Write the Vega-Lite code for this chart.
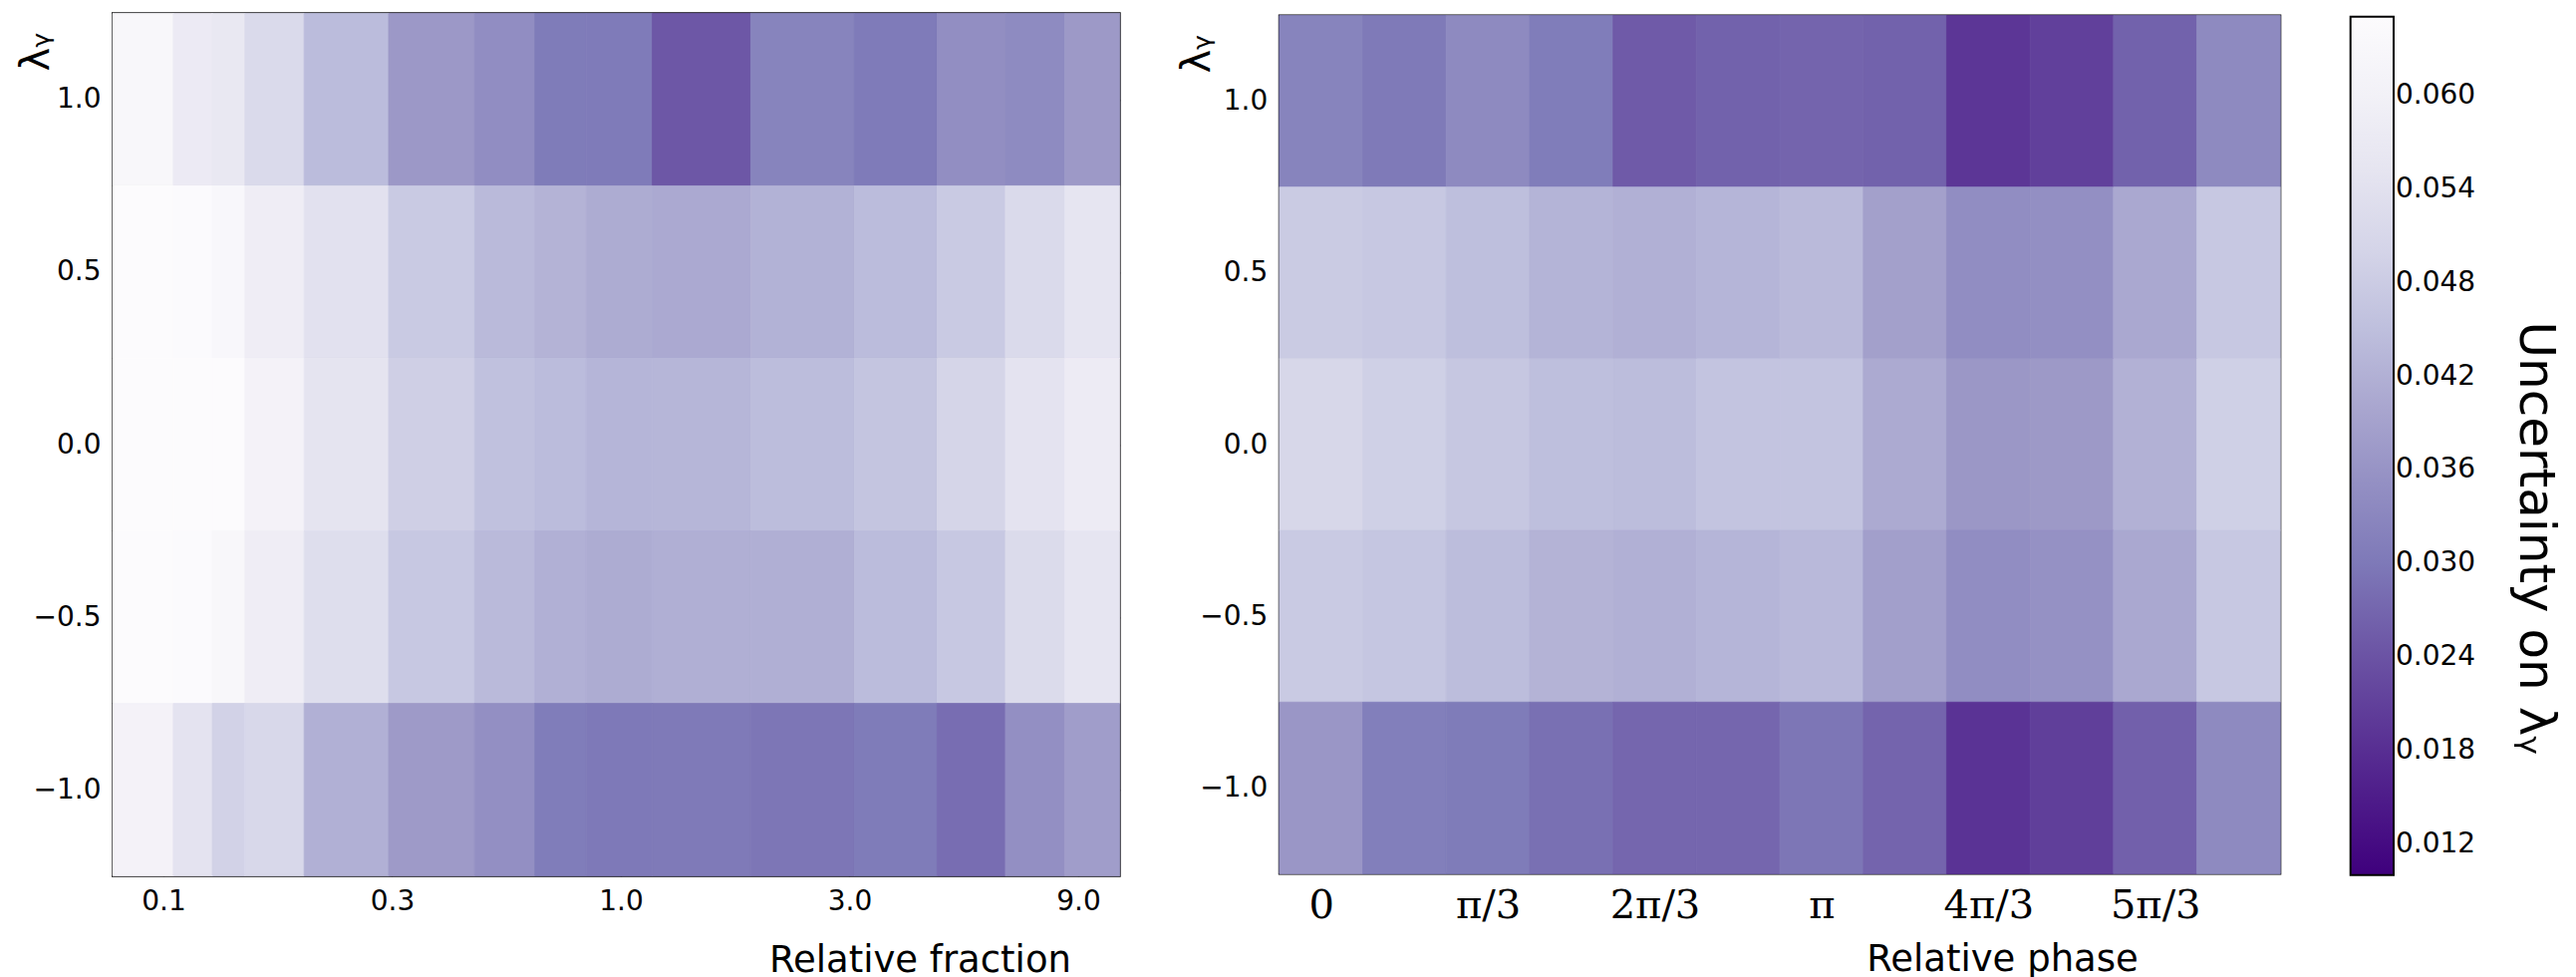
{
  "$schema": "https://vega.github.io/schema/vega-lite/v6.json",
  "background": "white",
  "padding": {"left": 15, "top": 11, "right": 40, "bottom": 0},
  "datasets": {
    "fraction": [
      {"lo": 0.08705, "hi": 0.1165, "ylo": 0.75, "yhi": 1.25, "u": 0.0629},
      {"lo": 0.1165, "hi": 0.1405, "ylo": 0.75, "yhi": 1.25, "u": 0.0572},
      {"lo": 0.1405, "hi": 0.1643, "ylo": 0.75, "yhi": 1.25, "u": 0.0562},
      {"lo": 0.1643, "hi": 0.2184, "ylo": 0.75, "yhi": 1.25, "u": 0.0513},
      {"lo": 0.2184, "hi": 0.3278, "ylo": 0.75, "yhi": 1.25, "u": 0.0443},
      {"lo": 0.3278, "hi": 0.4958, "ylo": 0.75, "yhi": 1.25, "u": 0.0371},
      {"lo": 0.4958, "hi": 0.6614, "ylo": 0.75, "yhi": 1.25, "u": 0.0345},
      {"lo": 0.6614, "hi": 0.847, "ylo": 0.75, "yhi": 1.25, "u": 0.0305},
      {"lo": 0.847, "hi": 1.163, "ylo": 0.75, "yhi": 1.25, "u": 0.0303},
      {"lo": 1.163, "hi": 1.867, "ylo": 0.75, "yhi": 1.25, "u": 0.0247},
      {"lo": 1.867, "hi": 3.073, "ylo": 0.75, "yhi": 1.25, "u": 0.0323},
      {"lo": 3.073, "hi": 4.572, "ylo": 0.75, "yhi": 1.25, "u": 0.0303},
      {"lo": 4.572, "hi": 6.346, "ylo": 0.75, "yhi": 1.25, "u": 0.0347},
      {"lo": 6.346, "hi": 8.446, "ylo": 0.75, "yhi": 1.25, "u": 0.0339},
      {"lo": 8.446, "hi": 10.99, "ylo": 0.75, "yhi": 1.25, "u": 0.0373},

      {"lo": 0.08705, "hi": 0.1165, "ylo": 0.25, "yhi": 0.75, "u": 0.0650},
      {"lo": 0.1165, "hi": 0.1405, "ylo": 0.25, "yhi": 0.75, "u": 0.0648},
      {"lo": 0.1405, "hi": 0.1643, "ylo": 0.25, "yhi": 0.75, "u": 0.0631},
      {"lo": 0.1643, "hi": 0.2184, "ylo": 0.25, "yhi": 0.75, "u": 0.0584},
      {"lo": 0.2184, "hi": 0.3278, "ylo": 0.25, "yhi": 0.75, "u": 0.0538},
      {"lo": 0.3278, "hi": 0.4958, "ylo": 0.25, "yhi": 0.75, "u": 0.0475},
      {"lo": 0.4958, "hi": 0.6614, "ylo": 0.25, "yhi": 0.75, "u": 0.0439},
      {"lo": 0.6614, "hi": 0.847, "ylo": 0.25, "yhi": 0.75, "u": 0.0425},
      {"lo": 0.847, "hi": 1.163, "ylo": 0.25, "yhi": 0.75, "u": 0.0411},
      {"lo": 1.163, "hi": 1.867, "ylo": 0.25, "yhi": 0.75, "u": 0.0405},
      {"lo": 1.867, "hi": 3.073, "ylo": 0.25, "yhi": 0.75, "u": 0.0422},
      {"lo": 3.073, "hi": 4.572, "ylo": 0.25, "yhi": 0.75, "u": 0.0443},
      {"lo": 4.572, "hi": 6.346, "ylo": 0.25, "yhi": 0.75, "u": 0.0475},
      {"lo": 6.346, "hi": 8.446, "ylo": 0.25, "yhi": 0.75, "u": 0.0513},
      {"lo": 8.446, "hi": 10.99, "ylo": 0.25, "yhi": 0.75, "u": 0.0553},

      {"lo": 0.08705, "hi": 0.1165, "ylo": -0.25, "yhi": 0.25, "u": 0.0650},
      {"lo": 0.1165, "hi": 0.1405, "ylo": -0.25, "yhi": 0.25, "u": 0.0650},
      {"lo": 0.1405, "hi": 0.1643, "ylo": -0.25, "yhi": 0.25, "u": 0.0649},
      {"lo": 0.1643, "hi": 0.2184, "ylo": -0.25, "yhi": 0.25, "u": 0.0607},
      {"lo": 0.2184, "hi": 0.3278, "ylo": -0.25, "yhi": 0.25, "u": 0.0549},
      {"lo": 0.3278, "hi": 0.4958, "ylo": -0.25, "yhi": 0.25, "u": 0.0487},
      {"lo": 0.4958, "hi": 0.6614, "ylo": -0.25, "yhi": 0.25, "u": 0.0454},
      {"lo": 0.6614, "hi": 0.847, "ylo": -0.25, "yhi": 0.25, "u": 0.0443},
      {"lo": 0.847, "hi": 1.163, "ylo": -0.25, "yhi": 0.25, "u": 0.0429},
      {"lo": 1.163, "hi": 1.867, "ylo": -0.25, "yhi": 0.25, "u": 0.0431},
      {"lo": 1.867, "hi": 3.073, "ylo": -0.25, "yhi": 0.25, "u": 0.0444},
      {"lo": 3.073, "hi": 4.572, "ylo": -0.25, "yhi": 0.25, "u": 0.0463},
      {"lo": 4.572, "hi": 6.346, "ylo": -0.25, "yhi": 0.25, "u": 0.0501},
      {"lo": 6.346, "hi": 8.446, "ylo": -0.25, "yhi": 0.25, "u": 0.0546},
      {"lo": 8.446, "hi": 10.99, "ylo": -0.25, "yhi": 0.25, "u": 0.0575},

      {"lo": 0.08705, "hi": 0.1165, "ylo": -0.75, "yhi": -0.25, "u": 0.0650},
      {"lo": 0.1165, "hi": 0.1405, "ylo": -0.75, "yhi": -0.25, "u": 0.0648},
      {"lo": 0.1405, "hi": 0.1643, "ylo": -0.75, "yhi": -0.25, "u": 0.0629},
      {"lo": 0.1643, "hi": 0.2184, "ylo": -0.75, "yhi": -0.25, "u": 0.0584},
      {"lo": 0.2184, "hi": 0.3278, "ylo": -0.75, "yhi": -0.25, "u": 0.0527},
      {"lo": 0.3278, "hi": 0.4958, "ylo": -0.75, "yhi": -0.25, "u": 0.0470},
      {"lo": 0.4958, "hi": 0.6614, "ylo": -0.75, "yhi": -0.25, "u": 0.0439},
      {"lo": 0.6614, "hi": 0.847, "ylo": -0.75, "yhi": -0.25, "u": 0.0419},
      {"lo": 0.847, "hi": 1.163, "ylo": -0.75, "yhi": -0.25, "u": 0.0411},
      {"lo": 1.163, "hi": 1.867, "ylo": -0.75, "yhi": -0.25, "u": 0.0417},
      {"lo": 1.867, "hi": 3.073, "ylo": -0.75, "yhi": -0.25, "u": 0.0417},
      {"lo": 3.073, "hi": 4.572, "ylo": -0.75, "yhi": -0.25, "u": 0.0443},
      {"lo": 4.572, "hi": 6.346, "ylo": -0.75, "yhi": -0.25, "u": 0.0470},
      {"lo": 6.346, "hi": 8.446, "ylo": -0.75, "yhi": -0.25, "u": 0.0516},
      {"lo": 8.446, "hi": 10.99, "ylo": -0.75, "yhi": -0.25, "u": 0.0553},

      {"lo": 0.08705, "hi": 0.1165, "ylo": -1.25, "yhi": -0.75, "u": 0.0607},
      {"lo": 0.1165, "hi": 0.1405, "ylo": -1.25, "yhi": -0.75, "u": 0.0546},
      {"lo": 0.1405, "hi": 0.1643, "ylo": -1.25, "yhi": -0.75, "u": 0.0494},
      {"lo": 0.1643, "hi": 0.2184, "ylo": -1.25, "yhi": -0.75, "u": 0.0508},
      {"lo": 0.2184, "hi": 0.3278, "ylo": -1.25, "yhi": -0.75, "u": 0.0419},
      {"lo": 0.3278, "hi": 0.4958, "ylo": -1.25, "yhi": -0.75, "u": 0.0375},
      {"lo": 0.4958, "hi": 0.6614, "ylo": -1.25, "yhi": -0.75, "u": 0.0350},
      {"lo": 0.6614, "hi": 0.847, "ylo": -1.25, "yhi": -0.75, "u": 0.0307},
      {"lo": 0.847, "hi": 1.163, "ylo": -1.25, "yhi": -0.75, "u": 0.0300},
      {"lo": 1.163, "hi": 1.867, "ylo": -1.25, "yhi": -0.75, "u": 0.0302},
      {"lo": 1.867, "hi": 3.073, "ylo": -1.25, "yhi": -0.75, "u": 0.0296},
      {"lo": 3.073, "hi": 4.572, "ylo": -1.25, "yhi": -0.75, "u": 0.0305},
      {"lo": 4.572, "hi": 6.346, "ylo": -1.25, "yhi": -0.75, "u": 0.0282},
      {"lo": 6.346, "hi": 8.446, "ylo": -1.25, "yhi": -0.75, "u": 0.0350},
      {"lo": 8.446, "hi": 10.99, "ylo": -1.25, "yhi": -0.75, "u": 0.0381}
    ],
    "phase": [
      {"lo": -0.2618, "hi": 0.2618, "ylo": 0.75, "yhi": 1.25, "u": 0.0323},
      {"lo": 0.2618, "hi": 0.7854, "ylo": 0.75, "yhi": 1.25, "u": 0.0302},
      {"lo": 0.7854, "hi": 1.309, "ylo": 0.75, "yhi": 1.25, "u": 0.0338},
      {"lo": 1.309, "hi": 1.8326, "ylo": 0.75, "yhi": 1.25, "u": 0.0306},
      {"lo": 1.8326, "hi": 2.3562, "ylo": 0.75, "yhi": 1.25, "u": 0.0252},
      {"lo": 2.3562, "hi": 2.8798, "ylo": 0.75, "yhi": 1.25, "u": 0.0264},
      {"lo": 2.8798, "hi": 3.4034, "ylo": 0.75, "yhi": 1.25, "u": 0.0268},
      {"lo": 3.4034, "hi": 3.927, "ylo": 0.75, "yhi": 1.25, "u": 0.0264},
      {"lo": 3.927, "hi": 4.4506, "ylo": 0.75, "yhi": 1.25, "u": 0.0194},
      {"lo": 4.4506, "hi": 4.9742, "ylo": 0.75, "yhi": 1.25, "u": 0.0210},
      {"lo": 4.9742, "hi": 5.4978, "ylo": 0.75, "yhi": 1.25, "u": 0.0264},
      {"lo": 5.4978, "hi": 6.0214, "ylo": 0.75, "yhi": 1.25, "u": 0.0338},

      {"lo": -0.2618, "hi": 0.2618, "ylo": 0.25, "yhi": 0.75, "u": 0.0477},
      {"lo": 0.2618, "hi": 0.7854, "ylo": 0.25, "yhi": 0.75, "u": 0.0470},
      {"lo": 0.7854, "hi": 1.309, "ylo": 0.25, "yhi": 0.75, "u": 0.0449},
      {"lo": 1.309, "hi": 1.8326, "ylo": 0.25, "yhi": 0.75, "u": 0.0427},
      {"lo": 1.8326, "hi": 2.3562, "ylo": 0.25, "yhi": 0.75, "u": 0.0419},
      {"lo": 2.3562, "hi": 2.8798, "ylo": 0.25, "yhi": 0.75, "u": 0.0429},
      {"lo": 2.8798, "hi": 3.4034, "ylo": 0.25, "yhi": 0.75, "u": 0.0439},
      {"lo": 3.4034, "hi": 3.927, "ylo": 0.25, "yhi": 0.75, "u": 0.0387},
      {"lo": 3.927, "hi": 4.4506, "ylo": 0.25, "yhi": 0.75, "u": 0.0345},
      {"lo": 4.4506, "hi": 4.9742, "ylo": 0.25, "yhi": 0.75, "u": 0.0350},
      {"lo": 4.9742, "hi": 5.4978, "ylo": 0.25, "yhi": 0.75, "u": 0.0403},
      {"lo": 5.4978, "hi": 6.0214, "ylo": 0.25, "yhi": 0.75, "u": 0.0470},

      {"lo": -0.2618, "hi": 0.2618, "ylo": -0.25, "yhi": 0.25, "u": 0.0506},
      {"lo": 0.2618, "hi": 0.7854, "ylo": -0.25, "yhi": 0.25, "u": 0.0489},
      {"lo": 0.7854, "hi": 1.309, "ylo": -0.25, "yhi": 0.25, "u": 0.0468},
      {"lo": 1.309, "hi": 1.8326, "ylo": -0.25, "yhi": 0.25, "u": 0.0449},
      {"lo": 1.8326, "hi": 2.3562, "ylo": -0.25, "yhi": 0.25, "u": 0.0444},
      {"lo": 2.3562, "hi": 2.8798, "ylo": -0.25, "yhi": 0.25, "u": 0.0461},
      {"lo": 2.8798, "hi": 3.4034, "ylo": -0.25, "yhi": 0.25, "u": 0.0461},
      {"lo": 3.4034, "hi": 3.927, "ylo": -0.25, "yhi": 0.25, "u": 0.0407},
      {"lo": 3.927, "hi": 4.4506, "ylo": -0.25, "yhi": 0.25, "u": 0.0368},
      {"lo": 4.4506, "hi": 4.9742, "ylo": -0.25, "yhi": 0.25, "u": 0.0373},
      {"lo": 4.9742, "hi": 5.4978, "ylo": -0.25, "yhi": 0.25, "u": 0.0421},
      {"lo": 5.4978, "hi": 6.0214, "ylo": -0.25, "yhi": 0.25, "u": 0.0489},

      {"lo": -0.2618, "hi": 0.2618, "ylo": -0.75, "yhi": -0.25, "u": 0.0475},
      {"lo": 0.2618, "hi": 0.7854, "ylo": -0.75, "yhi": -0.25, "u": 0.0466},
      {"lo": 0.7854, "hi": 1.309, "ylo": -0.75, "yhi": -0.25, "u": 0.0444},
      {"lo": 1.309, "hi": 1.8326, "ylo": -0.75, "yhi": -0.25, "u": 0.0425},
      {"lo": 1.8326, "hi": 2.3562, "ylo": -0.75, "yhi": -0.25, "u": 0.0419},
      {"lo": 2.3562, "hi": 2.8798, "ylo": -0.75, "yhi": -0.25, "u": 0.0429},
      {"lo": 2.8798, "hi": 3.4034, "ylo": -0.75, "yhi": -0.25, "u": 0.0437},
      {"lo": 3.4034, "hi": 3.927, "ylo": -0.75, "yhi": -0.25, "u": 0.0385},
      {"lo": 3.927, "hi": 4.4506, "ylo": -0.75, "yhi": -0.25, "u": 0.0345},
      {"lo": 4.4506, "hi": 4.9742, "ylo": -0.75, "yhi": -0.25, "u": 0.0354},
      {"lo": 4.9742, "hi": 5.4978, "ylo": -0.75, "yhi": -0.25, "u": 0.0403},
      {"lo": 5.4978, "hi": 6.0214, "ylo": -0.75, "yhi": -0.25, "u": 0.0470},

      {"lo": -0.2618, "hi": 0.2618, "ylo": -1.25, "yhi": -0.75, "u": 0.0366},
      {"lo": 0.2618, "hi": 0.7854, "ylo": -1.25, "yhi": -0.75, "u": 0.0312},
      {"lo": 0.7854, "hi": 1.309, "ylo": -1.25, "yhi": -0.75, "u": 0.0305},
      {"lo": 1.309, "hi": 1.8326, "ylo": -1.25, "yhi": -0.75, "u": 0.0286},
      {"lo": 1.8326, "hi": 2.3562, "ylo": -1.25, "yhi": -0.75, "u": 0.0271},
      {"lo": 2.3562, "hi": 2.8798, "ylo": -1.25, "yhi": -0.75, "u": 0.0271},
      {"lo": 2.8798, "hi": 3.4034, "ylo": -1.25, "yhi": -0.75, "u": 0.0296},
      {"lo": 3.4034, "hi": 3.927, "ylo": -1.25, "yhi": -0.75, "u": 0.0268},
      {"lo": 3.927, "hi": 4.4506, "ylo": -1.25, "yhi": -0.75, "u": 0.0189},
      {"lo": 4.4506, "hi": 4.9742, "ylo": -1.25, "yhi": -0.75, "u": 0.0208},
      {"lo": 4.9742, "hi": 5.4978, "ylo": -1.25, "yhi": -0.75, "u": 0.0262},
      {"lo": 5.4978, "hi": 6.0214, "ylo": -1.25, "yhi": -0.75, "u": 0.0338}
    ]
  },
  "hconcat": [
    {
      "width": 1010.7,
      "height": 865.3,
      "data": {"name": "fraction"},
      "layer": [
        {
          "mark": {"type": "rect", "stroke": {"expr": "scale('color', datum.u)"}, "strokeWidth": 0.8},
          "encoding": {
            "x": {
              "field": "lo", "type": "quantitative",
              "scale": {"type": "log", "domain": [0.08705, 10.99], "nice": false},
              "axis": {
                "orient": "bottom",
                "values": [0.111111, 0.333333, 1, 3, 9],
                "format": ".1f",
                "title": "Relative fraction",
                "titleAlign": "right",
                "titleBaseline": "alphabetic",
                "titleX": 961.5,
                "titleY": 95.7
              }
            },
            "x2": {"field": "hi"},
            "y": {
              "field": "ylo", "type": "quantitative",
              "scale": {"domain": [-1.25, 1.25], "nice": false, "zero": false},
              "axis": {
                "orient": "left",
                "values": [-1, -0.5, 0, 0.5, 1],
                "format": ".1f",
                "title": "λᵧ",
                "titleFontSize": 40,
                "titleAlign": "right",
                "titleBaseline": "alphabetic",
                "titleX": -65,
                "titleY": 19
              }
            },
            "y2": {"field": "yhi"},
            "color": {
              "field": "u", "type": "quantitative",
              "scale": {
                "domain": [0.01002, 0.0169, 0.02378, 0.03066, 0.03755, 0.04443, 0.05131, 0.05819, 0.06507],
                "range": ["#3f007d", "#54278f", "#6a51a3", "#807dba", "#9e9ac8", "#bcbddc", "#dadaeb", "#efedf5", "#fcfbfd"],
                "interpolate": "rgb",
                "clamp": true
              },
              "legend": {
                "type": "gradient",
                "orient": "none",
                "legendX": 2245.7,
                "legendY": 3.7,
                "direction": "vertical",
                "gradientLength": 861,
                "gradientThickness": 43.3,
                "values": [0.012, 0.018, 0.024, 0.03, 0.036, 0.042, 0.048, 0.054, 0.06],
                "format": ".3f",
                "title": "Uncertainty on λᵧ",
                "titleOrient": "right",
                "titleAnchor": "middle",
                "encode": {"title": {"update": {"angle": {"value": 90}, "dx": {"value": 92}}}}
              }
            }
          }
        },
        {
          "mark": {"type": "rect", "opacity": 0},
          "encoding": {
            "x": {
              "field": "lo", "type": "quantitative",
              "axis": {"orient": "top", "values": [0.111111, 0.333333, 1, 3, 9], "labels": false, "title": null}
            },
            "x2": {"field": "hi"},
            "y": {
              "field": "ylo", "type": "quantitative",
              "axis": {"orient": "right", "values": [-1, -0.5, 0, 0.5, 1], "labels": false, "title": null}
            },
            "y2": {"field": "yhi"}
          }
        }
      ],
      "resolve": {"axis": {"x": "independent", "y": "independent"}}
    },
    {
      "width": 1004.5,
      "height": 861,
      "data": {"name": "phase"},
      "layer": [
        {
          "mark": {"type": "rect", "stroke": {"expr": "scale('color', datum.u)"}, "strokeWidth": 0.8},
          "encoding": {
            "x": {
              "field": "lo", "type": "quantitative",
              "scale": {"domain": [-0.2618, 6.0214], "nice": false, "zero": false},
              "axis": {
                "orient": "bottom",
                "values": [0, 1.0471976, 2.0943951, 3.1415927, 4.1887902, 5.2359878],
                "labelExpr": "['0', 'π/3', '2π/3', 'π', '4π/3', '5π/3'][round(datum.value / 1.0471976)]",
                "labelFont": "DejaVu Serif",
                "labelFontSize": 40,
                "title": "Relative phase",
                "titleAlign": "right",
                "titleBaseline": "alphabetic",
                "titleX": 861.5,
                "titleY": 96.5
              }
            },
            "x2": {"field": "hi"},
            "y": {
              "field": "ylo", "type": "quantitative",
              "scale": {"domain": [-1.25, 1.25], "nice": false, "zero": false},
              "axis": {
                "orient": "left",
                "values": [-1, -0.5, 0, 0.5, 1],
                "format": ".1f",
                "title": "λᵧ",
                "titleFontSize": 40,
                "titleAlign": "right",
                "titleBaseline": "alphabetic",
                "titleX": -70,
                "titleY": 19
              }
            },
            "y2": {"field": "yhi"},
            "color": {
              "field": "u", "type": "quantitative",
              "scale": {
                "domain": [0.01002, 0.0169, 0.02378, 0.03066, 0.03755, 0.04443, 0.05131, 0.05819, 0.06507],
                "range": ["#3f007d", "#54278f", "#6a51a3", "#807dba", "#9e9ac8", "#bcbddc", "#dadaeb", "#efedf5", "#fcfbfd"],
                "interpolate": "rgb",
                "clamp": true
              },
              "legend": {
                "type": "gradient",
                "orient": "none",
                "legendX": 2245.7,
                "legendY": 3.7,
                "direction": "vertical",
                "gradientLength": 861,
                "gradientThickness": 43.3,
                "values": [0.012, 0.018, 0.024, 0.03, 0.036, 0.042, 0.048, 0.054, 0.06],
                "format": ".3f",
                "title": "Uncertainty on λᵧ",
                "titleOrient": "right",
                "titleAnchor": "middle",
                "encode": {"title": {"update": {"angle": {"value": 90}, "dx": {"value": 92}}}}
              }
            }
          }
        },
        {
          "mark": {"type": "rect", "opacity": 0},
          "encoding": {
            "x": {
              "field": "lo", "type": "quantitative",
              "axis": {"orient": "top", "values": [0, 1.0471976, 2.0943951, 3.1415927, 4.1887902, 5.2359878], "labels": false, "title": null}
            },
            "x2": {"field": "hi"},
            "y": {
              "field": "ylo", "type": "quantitative",
              "axis": {"orient": "right", "values": [-1, -0.5, 0, 0.5, 1], "labels": false, "title": null}
            },
            "y2": {"field": "yhi"}
          }
        }
      ],
      "resolve": {"axis": {"x": "independent", "y": "independent"}}
    }
  ],
  "spacing": 159.8,
  "bounds": "flush",
  "center": true,
  "resolve": {"scale": {"color": "shared"}},
  "config": {
    "font": "DejaVu Sans",
    "view": {"stroke": "black", "strokeWidth": 2},
    "axis": {
      "domain": false,
      "grid": false,
      "ticks": true,
      "tickSize": -11,
      "tickColor": "black",
      "tickWidth": 1.5,
      "labelFont": "DejaVu Sans",
      "labelFontSize": 28,
      "labelColor": "black",
      "labelPadding": 23,
      "labelFlush": false,
      "labelOverlap": false,
      "titleFont": "DejaVu Sans",
      "titleFontSize": 37,
      "titleFontWeight": "normal",
      "titleColor": "black"
    },
    "legend": {
      "padding": 0,
      "labelFont": "DejaVu Sans",
      "labelFontSize": 28,
      "labelColor": "black",
      "labelOffset": 11,
      "labelOverlap": false,
      "gradientStrokeColor": "black",
      "gradientStrokeWidth": 2,
      "titleFont": "DejaVu Sans",
      "titleFontSize": 50,
      "titleFontWeight": "normal",
      "titleColor": "black",
      "titlePadding": 35,
      "titleLimit": 1000
    }
  }
}
